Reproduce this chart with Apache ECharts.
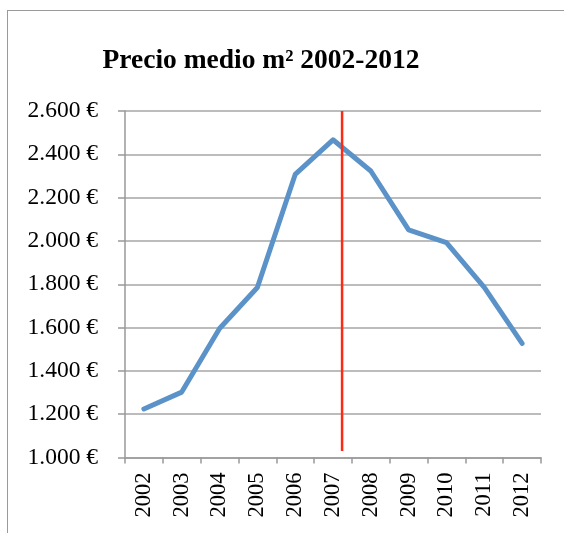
<!DOCTYPE html>
<html>
<head>
<meta charset="utf-8">
<script src="https://cdn.jsdelivr.net/npm/echarts@6/dist/echarts.min.js"></script>
<style>
html,body{margin:0;padding:0;background:#fff;width:564px;height:533px;overflow:hidden;}
#frame{position:absolute;left:7px;top:10px;width:700px;height:700px;border:1.5px solid #9a9a9a;box-sizing:border-box;}
#chart{position:absolute;left:0;top:0;width:564px;height:533px;}
</style>
</head>
<body>
<div id="frame"></div>
<div id="chart"></div>
<script>
const years = ['2002','2003','2004','2005','2006','2007','2008','2009','2010','2011','2012'];
const prices = [1224, 1302, 1596, 1785, 2307, 2467, 2323, 2051, 1992, 1786, 1527];
const yTicks = {min: 1000, max: 2600, interval: 200};
const markerX = [5.24, 5.24];
const markerY = [2600, 1030];

function fmt(v){
  return String(v).replace(/\B(?=(\d{3})+(?!\d))/g, '.') + ' €';
}

const chart = echarts.init(document.getElementById('chart'), null, {renderer:'canvas'});
chart.setOption({
  backgroundColor: 'transparent',
  animation: false,
  title: {
    text: 'Precio medio m² 2002-2012',
    left: 256, top: 42, textAlign: 'center',
    textStyle: {fontFamily: 'Liberation Serif', fontWeight: 'bold', fontSize: 27.5, color: '#000'}
  },
  grid: {left: 125, right: 23, top: 111, bottom: 75.5, containLabel: false},
  xAxis: [{
    type: 'category',
    data: years,
    boundaryGap: true,
    axisLine: {lineStyle: {color: '#999', width: 1.5}},
    axisTick: {show: true, alignWithLabel: false, length: 6, lineStyle: {color: '#999', width: 1.5}},
    axisLabel: {rotate: 90, margin: 15, fontFamily: 'Liberation Serif', fontSize: 22.5, color: '#000'},
    splitLine: {show: false}
  }, {
    type: 'value',
    min: -0.5, max: 10.5,
    show: false
  }],
  yAxis: {
    type: 'value',
    min: yTicks.min, max: yTicks.max, interval: yTicks.interval,
    axisLine: {show: true, onZero: false, lineStyle: {color: '#999', width: 1.5}},
    axisTick: {show: true, inside: false, length: 7, lineStyle: {color: '#999', width: 1.5}},
    axisLabel: {margin: 27, formatter: fmt, fontFamily: 'Liberation Serif', fontSize: 23.5, color: '#000'},
    splitLine: {show: true, lineStyle: {color: '#a6a6a6', width: 1.5}}
  },
  series: [{
    type: 'line',
    xAxisIndex: 0,
    data: prices,
    symbol: 'none',
    lineStyle: {color: '#5b93c9', width: 5, cap: 'round', join: 'round'},
    z: 3
  }, {
    type: 'line',
    xAxisIndex: 1,
    data: [[markerX[0], markerY[0]], [markerX[1], markerY[1]]],
    symbol: 'none',
    lineStyle: {color: '#ff2a12', width: 2.5},
    z: 4
  }]
});
</script>
</body>
</html>
